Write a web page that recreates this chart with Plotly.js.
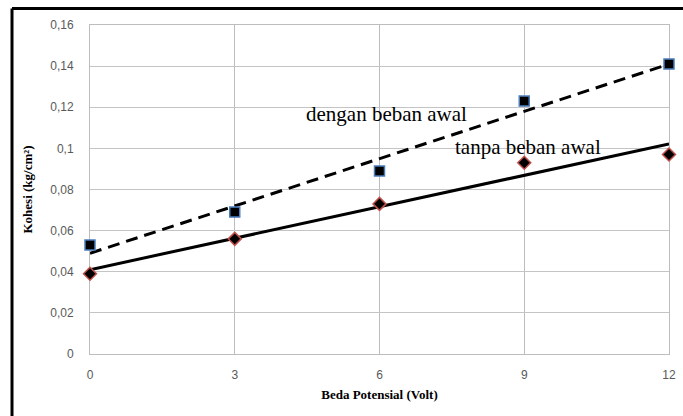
<!DOCTYPE html>
<html>
<head>
<meta charset="utf-8">
<script src="https://cdn.plot.ly/plotly-3.0.1.min.js"></script>
<style>
html,body{margin:0;padding:0;background:#fff;}
#chart{width:683px;height:416px;}
</style>
</head>
<body>
<div id="chart"></div>
<script>
// Data
const voltage = [0, 3, 6, 9, 12];
const kohesiDengan = [0.053, 0.069, 0.089, 0.123, 0.141];
const kohesiTanpa = [0.039, 0.056, 0.073, 0.093, 0.097];
const xTicks = [0, 3, 6, 9, 12];
const labelDengan = "dengan beban awal";
const labelTanpa = "tanpa beban awal";
const xTitle = "Beda Potensial (Volt)";
const yTitle = "Kohesi (kg/cm²)";

// least-squares linear trendline (as in the source spreadsheet chart)
function fit(xs, ys) {
  const n = xs.length;
  const mx = xs.reduce((a, b) => a + b, 0) / n;
  const my = ys.reduce((a, b) => a + b, 0) / n;
  let sxy = 0, sxx = 0;
  for (let i = 0; i < n; i++) { sxy += (xs[i] - mx) * (ys[i] - my); sxx += (xs[i] - mx) ** 2; }
  const b = sxy / sxx, a = my - b * mx;
  const x0 = Math.min(...xs), x1 = Math.max(...xs);
  return { x: [x0, x1], y: [a + b * x0, a + b * x1] };
}
const tDengan = fit(voltage, kohesiDengan);
const tTanpa = fit(voltage, kohesiTanpa);

const traces = [
  { x: tDengan.x, y: tDengan.y, mode: 'lines', line: { color: '#000', width: 3, dash: '12px,7px' }, hoverinfo: 'skip', showlegend: false, cliponaxis: false },
  { x: tTanpa.x, y: tTanpa.y, mode: 'lines', line: { color: '#000', width: 3 }, hoverinfo: 'skip', showlegend: false, cliponaxis: false },
  { x: voltage, y: kohesiDengan, mode: 'markers', name: labelDengan, cliponaxis: false,
    marker: { symbol: 'square', size: 10, color: '#000', line: { color: '#4a7ebb', width: 1.5 } } },
  { x: voltage, y: kohesiTanpa, mode: 'markers', name: labelTanpa, cliponaxis: false,
    marker: { symbol: 'diamond', size: 10, color: '#000', line: { color: '#c0504d', width: 1.5 } } }
];

const serif = 'Liberation Serif, Times New Roman, serif';
const layout = {
  width: 683, height: 416,
  margin: { l: 90, r: 14, t: 25, b: 62 },
  paper_bgcolor: '#fff', plot_bgcolor: '#fff',
  separators: ',.',
  showlegend: false,
  font: { family: 'Liberation Sans, Arial, sans-serif', size: 12, color: '#595959' },
  xaxis: {
    range: [0, 12], tickvals: xTicks, ticktext: xTicks.map(String),
    showgrid: true, gridcolor: '#bdbdbd', gridwidth: 1, layer: 'below traces',
    zeroline: false, showline: true, linecolor: '#bdbdbd', linewidth: 1, mirror: true,
    ticks: '', ticklabelstandoff: 10,
    tickfont: { size: 12, color: '#595959' },
    title: { text: xTitle, font: { family: serif, size: 13, color: '#000', weight: 'bold' }, standoff: 8 }
  },
  yaxis: {
    range: [0, 0.16], dtick: 0.02, tick0: 0,
    showgrid: true, gridcolor: '#c4c4c4', gridwidth: 1, layer: 'below traces',
    zeroline: false, showline: true, linecolor: '#bdbdbd', linewidth: 1, mirror: true,
    ticks: '', ticklabelstandoff: 13,
    tickfont: { size: 12, color: '#595959' },
    title: { text: yTitle, font: { family: serif, size: 13, color: '#000', weight: 'bold' }, standoff: 14 }
  },
  annotations: [
    { x: 6.14, y: 0.1168, xref: 'x', yref: 'y', text: labelDengan, showarrow: false,
      font: { family: serif, size: 21, color: '#000' } },
    { x: 9.08, y: 0.1007, xref: 'x', yref: 'y', text: labelTanpa, showarrow: false,
      font: { family: serif, size: 21, color: '#000' } }
  ],
  shapes: [
    { type: 'line', xref: 'paper', yref: 'paper', x0: -0.1347, x1: -0.1347, y0: -0.3, y1: 1.05, line: { color: '#000', width: 3 } },
    { type: 'line', xref: 'paper', yref: 'paper', x0: -0.1347, x1: 1.1, y0: 1.05, y1: 1.05, line: { color: '#000', width: 3 } }
  ]
};
Plotly.newPlot('chart', traces, layout, { displayModeBar: false, staticPlot: true });
</script>
</body>
</html>
